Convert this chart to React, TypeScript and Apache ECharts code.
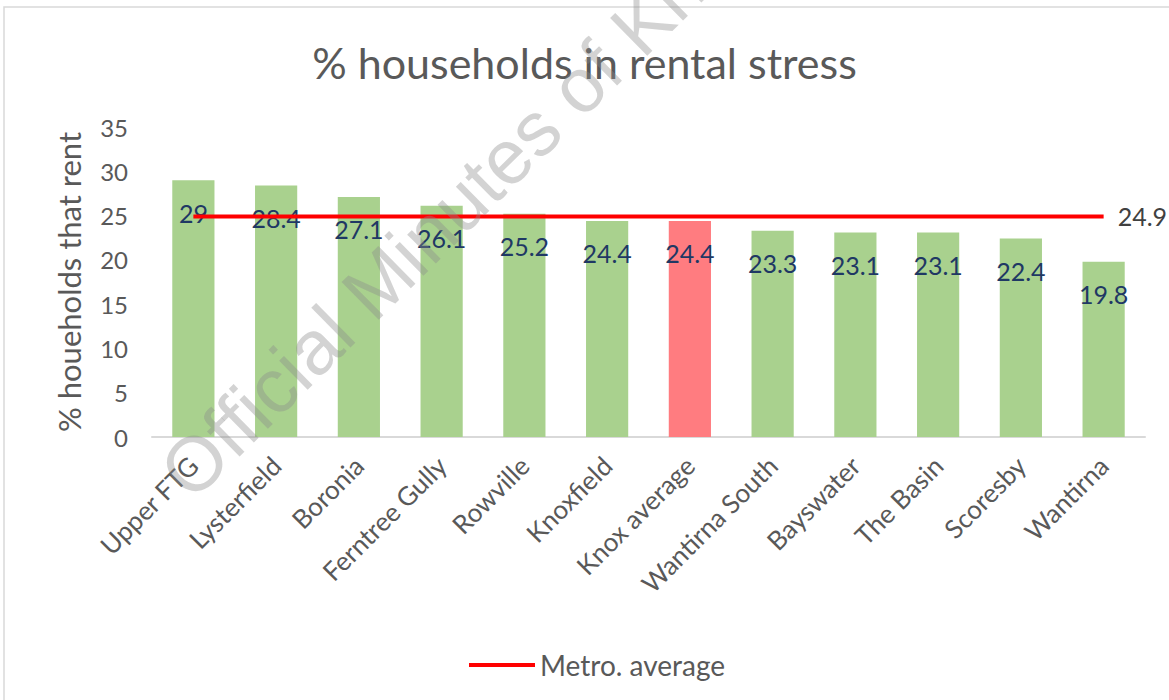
import React, { useEffect, useRef } from "react";
import * as echarts from "echarts";

const categories = [
  "Upper FTG", "Lysterfield", "Boronia", "Ferntree Gully", "Rowville", "Knoxfield",
  "Knox average", "Wantirna South", "Bayswater", "The Basin", "Scoresby", "Wantirna",
];
const rentalStress = [29, 28.4, 27.1, 26.1, 25.2, 24.4, 24.4, 23.3, 23.1, 23.1, 22.4, 19.8];
const metroAverage = [24.9, 24.9, 24.9, 24.9, 24.9, 24.9, 24.9, 24.9, 24.9, 24.9, 24.9, 24.9];
const highlightCategory = "Knox average";
const yTicks = { min: 0, max: 35, interval: 5 };

const GREEN = "#A9D18E";
const RED_BAR = "#FF7C80";
const TEXT = "#595959";
const FONT = "Lato, 'Noto Sans', sans-serif";

export default function App() {
  const ref = useRef<HTMLDivElement>(null);
  useEffect(() => {
    if (!ref.current) return;
    const chart = echarts.init(ref.current, undefined, { renderer: "svg" });
    chart.setOption({
      animation: false,
      backgroundColor: "#ffffff",
      textStyle: { fontFamily: FONT },
      title: {
        text: "% households in rental stress",
        left: "center",
        top: 36,
        textStyle: { fontFamily: FONT, fontSize: 43, fontWeight: "normal", color: TEXT },
      },
      legend: {
        left: 464,
        top: 646,
        icon: "rect",
        itemWidth: 66,
        itemHeight: 4,
        itemGap: 10,
        textStyle: { fontFamily: FONT, fontSize: 28, color: TEXT },
        data: [{ name: "Metro. average", itemStyle: { color: "#FF0000" } }],
      },
      grid: { left: 152, right: 24, top: 127, bottom: 263, containLabel: false },
      xAxis: {
        type: "category",
        data: categories,
        axisLine: { lineStyle: { color: "#D9D9D9", width: 2 } },
        axisTick: { show: false },
        axisLabel: {
          rotate: 45,
          interval: 0,
          margin: 24,
          fontFamily: FONT,
          fontSize: 26,
          color: TEXT,
        },
      },
      yAxis: {
        type: "value",
        min: yTicks.min,
        max: yTicks.max,
        interval: yTicks.interval,
        name: "% houeholds that rent",
        nameLocation: "middle",
        nameGap: 68,
        nameTextStyle: { fontFamily: FONT, fontSize: 31, color: TEXT },
        axisLine: { show: false },
        axisTick: { show: false },
        splitLine: { show: false },
        axisLabel: { fontFamily: FONT, fontSize: 24, color: TEXT, margin: 24 },
      },
      series: [
        {
          name: "% households in rental stress",
          type: "bar",
          barWidth: "51%",
          data: rentalStress.map((v, i) => ({
            value: v,
            itemStyle: { color: categories[i] === highlightCategory ? RED_BAR : GREEN },
          })),
          label: {
            show: true,
            position: "insideTop",
            distance: 20,
            fontFamily: FONT,
            fontSize: 25,
            color: "#1F3864",
          },
          z: 2,
        },
        {
          name: "Metro. average",
          type: "line",
          data: metroAverage,
          symbol: "none",
          lineStyle: { color: "#FF0000", width: 4 },
          itemStyle: { color: "#FF0000" },
          endLabel: {
            show: true,
            distance: 14,
            fontFamily: FONT,
            fontSize: 25,
            color: "#404040",
          },
          z: 3,
        },
      ],
      graphic: [
        {
          type: "rect",
          shape: { x: 4, y: 7, width: 1180, height: 710 },
          style: { fill: "none", stroke: "#D9D9D9", lineWidth: 1.5 },
          silent: true,
          z: 10,
        },
        {
          type: "text",
          x: 461,
          y: 201,
          rotation: (44.5 * Math.PI) / 180,
          style: {
            text: "Official Minutes of Knox",
            fontFamily: "'Liberation Sans', Arial, sans-serif",
            fontSize: 77,
            fill: "rgba(140,140,140,0.38)",
            align: "center",
            verticalAlign: "middle",
          },
          silent: true,
          z: 100,
        },
      ],
    });
    return () => chart.dispose();
  }, []);
  return (
    <div
      ref={ref}
      style={{ position: "absolute", left: 0, top: 0, width: 1169, height: 700 }}
    />
  );
}
